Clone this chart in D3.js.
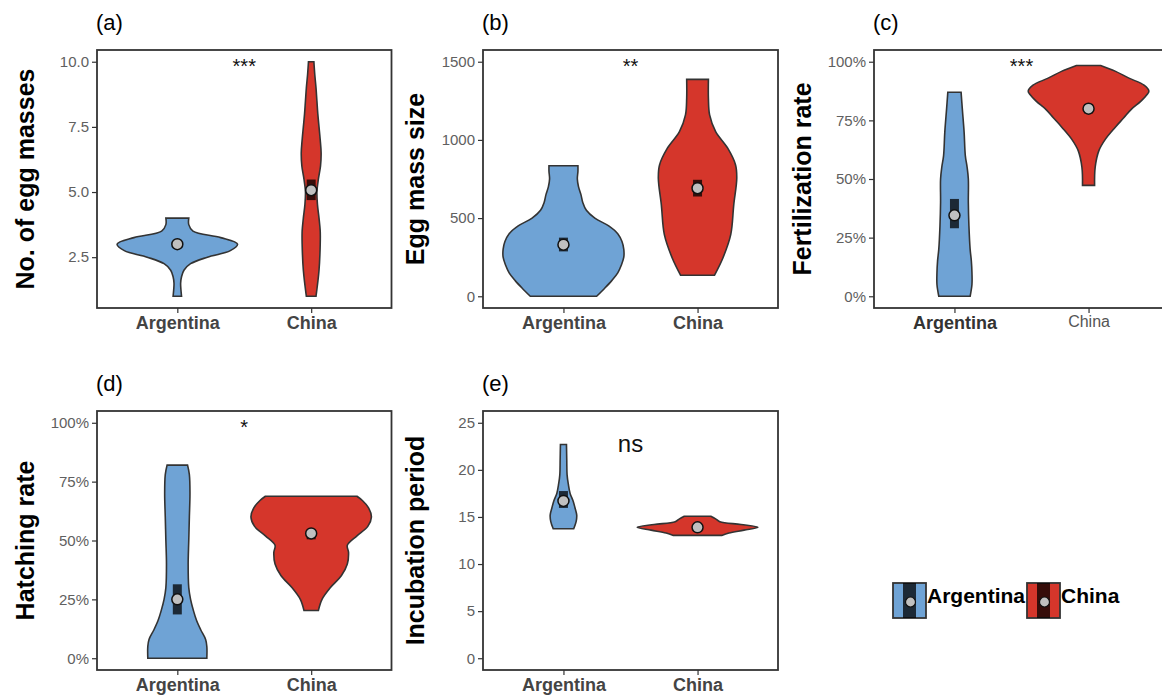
<!DOCTYPE html>
<html lang="en">
  <head>
    <meta charset="UTF-8" />
    <title>Egg traits - Argentina vs China</title>
    <script src="https://d3js.org/d3.v7.min.js"></script>
    <style>
      body { margin: 0; background: #fff; }
      svg { display: block; font-family: "Liberation Sans", Arial, sans-serif; }
    </style>
  </head>
  <body>
    <svg id="chart" width="1162" height="695"></svg>

    <script>
      const groups = ["Argentina", "China"];

      // violin profiles: [value, relative half-width]
      // (a) No. of egg masses
      const eggMassArg = [[1.0,0.07],[1.25,0.06],[1.5,0.055],[1.75,0.07],[2.0,0.11],[2.25,0.22],[2.5,0.5],[2.75,0.88],[3.0,1.0],[3.25,0.72],[3.5,0.26],[3.75,0.19],[4.0,0.19]];
      const eggMassChn = [[1.0,0.08],[2.0,0.13],[3.0,0.15],[3.5,0.15],[4.0,0.13],[4.5,0.105],[5.0,0.095],[5.5,0.12],[6.0,0.155],[6.5,0.165],[7.0,0.15],[7.5,0.13],[8.0,0.11],[8.5,0.095],[9.0,0.08],[9.5,0.06],[10.0,0.045]];
      const eggMassMean = [3.0, 5.07];
      const eggMassSE = [[2.92, 3.08], [4.69, 5.48]];

      // (b) Egg mass size
      const massSizeArg = [[0,0.55],[50,0.68],[100,0.8],[150,0.9],[200,0.96],[250,1.0],[300,1.0],[350,0.97],[400,0.9],[450,0.75],[500,0.52],[550,0.38],[600,0.32],[650,0.29],[700,0.25],[750,0.23],[800,0.24],[835,0.24]];
      const massSizeChn = [[134,0.28],[245,0.42],[394,0.55],[585,0.6],[755,0.65],[840,0.63],[947,0.5],[1053,0.3],[1160,0.2],[1266,0.18],[1387,0.18]];
      const massSizeMean = [330, 691];
      const massSizeSE = [[287, 375], [638, 745]];

      // (c) Fertilization rate
      const fertArg = [[0,0.26],[0.05,0.29],[0.1,0.29],[0.15,0.28],[0.2,0.26],[0.3,0.24],[0.4,0.23],[0.5,0.23],[0.55,0.21],[0.6,0.18],[0.7,0.16],[0.8,0.13],[0.87,0.11]];
      const fertChn = [[0.473,0.1],[0.55,0.11],[0.62,0.17],[0.67,0.28],[0.72,0.44],[0.76,0.58],[0.8,0.72],[0.83,0.86],[0.86,0.97],[0.875,1.0],[0.9,0.92],[0.93,0.67],[0.96,0.44],[0.984,0.2]];
      const fertMean = [0.345, 0.80];
      const fertSE = [[0.29, 0.415], [0.78, 0.82]];

      // (d) Hatching rate
      const hatchArg = [[0,0.49],[0.05,0.49],[0.08,0.47],[0.12,0.39],[0.16,0.32],[0.2,0.27],[0.25,0.22],[0.3,0.19],[0.4,0.18],[0.5,0.19],[0.6,0.2],[0.7,0.21],[0.78,0.2],[0.82,0.17]];
      const hatchChn = [[0.203,0.12],[0.25,0.18],[0.3,0.32],[0.35,0.5],[0.4,0.6],[0.45,0.62],[0.48,0.6],[0.52,0.76],[0.56,0.94],[0.6,1.0],[0.64,0.95],[0.67,0.85],[0.688,0.76]];
      const hatchMean = [0.25, 0.53];
      const hatchSE = [[0.186, 0.314], [0.505, 0.545]];

      // (e) Incubation period
      const incubArg = [[13.75,0.17],[14.5,0.21],[15.2,0.22],[16.0,0.19],[16.7,0.16],[17.5,0.11],[18.5,0.08],[19.5,0.06],[21.0,0.055],[22.7,0.05]];
      const incubChn = [[13.04,0.4],[13.3,0.52],[13.6,0.77],[13.9,1.0],[14.2,0.72],[14.5,0.37],[14.8,0.3],[15.07,0.22]];
      const incubMean = [16.7, 13.9];
      const incubSE = [[15.96, 17.75], [13.7, 14.1]];

      const colors = ["#6fa3d5", "#d5362b"];

      const panels = [
        { tag: "(a)", title: "No. of egg masses", box: [97, 50, 391.5, 308], domain: [0.55, 10.45],
          ticks: [2.5, 5, 7.5, 10], fmt: d3.format(".1f"), violins: [eggMassArg, eggMassChn],
          means: eggMassMean, se: eggMassSE, sig: "***", sigY: 10, titleX: 25 },
        { tag: "(b)", title: "Egg mass size", box: [483, 50, 778, 308], domain: [-75, 1575],
          ticks: [0, 500, 1000, 1500], fmt: d3.format("d"), violins: [massSizeArg, massSizeChn],
          means: massSizeMean, se: massSizeSE, sig: "**", sigY: 1500, titleX: 415 },
        { tag: "(c)", title: "Fertilization rate", box: [874, 50, 1169, 308], domain: [-0.05, 1.05],
          ticks: [0, 0.25, 0.5, 0.75, 1], fmt: d3.format(".0%"), violins: [fertArg, fertChn],
          means: fertMean, se: fertSE, sig: "***", sigY: 1, titleX: 802, oddLabels: true },
        { tag: "(d)", title: "Hatching rate", box: [97, 411, 391.5, 670], domain: [-0.05, 1.05],
          ticks: [0, 0.25, 0.5, 0.75, 1], fmt: d3.format(".0%"), violins: [hatchArg, hatchChn],
          means: hatchMean, se: hatchSE, sig: "*", sigY: 1, titleX: 25 },
        { tag: "(e)", title: "Incubation period", box: [483, 411, 778, 670], domain: [-1.25, 26.25],
          ticks: [0, 5, 10, 15, 20, 25], fmt: d3.format("d"), violins: [incubArg, incubChn],
          means: incubMean, se: incubSE, sig: "ns", sigY: 25, titleX: 415 },
      ];

      const svg = d3.select("#chart");
      svg.append("rect").attr("width", 1162).attr("height", 695).attr("fill", "#fff");

      panels.forEach((p) => {
        const [x0, y0, x1, y1] = p.box;
        const g = svg.append("g");

        const x = d3.scalePoint().domain(groups).range([x0, x1]).padding(0.6);
        const y = d3.scaleLinear().domain(p.domain).range([y1, y0]);
        const w = d3.scaleLinear().domain([0, 1]).range([0, x.step() * 0.45]);

        // violins
        p.violins.forEach((prof, i) => {
          const cx = x(groups[i]);
          const area = d3
            .area()
            .curve(d3.curveCatmullRom.alpha(0.5))
            .y((d) => y(d[0]))
            .x0((d) => cx - w(d[1]))
            .x1((d) => cx + w(d[1]));
          g.append("path")
            .datum(prof)
            .attr("d", area)
            .attr("fill", colors[i])
            .attr("stroke", "#333")
            .attr("stroke-width", 1.6);
        });

        // mean +/- se box and mean point
        groups.forEach((grp, i) => {
          const cx = x(grp);
          g.append("rect")
            .attr("x", cx - 4.5)
            .attr("width", 9)
            .attr("y", y(p.se[i][1]))
            .attr("height", y(p.se[i][0]) - y(p.se[i][1]))
            .attr("fill", "#000")
            .attr("fill-opacity", 0.75);
          g.append("circle")
            .attr("cx", cx)
            .attr("cy", y(p.means[i]))
            .attr("r", 5.5)
            .attr("fill", "#c0c0c0")
            .attr("stroke", "#111")
            .attr("stroke-width", 1.5);
        });

        // panel border
        g.append("rect")
          .attr("x", x0)
          .attr("y", y0)
          .attr("width", x1 - x0)
          .attr("height", y1 - y0)
          .attr("fill", "none")
          .attr("stroke", "#333")
          .attr("stroke-width", 1.8);

        // axes
        const yAxis = g
          .append("g")
          .attr("transform", `translate(${x0},0)`)
          .call(d3.axisLeft(y).tickValues(p.ticks).tickFormat(p.fmt).tickSize(5).tickPadding(3));
        yAxis.select(".domain").remove();
        yAxis.selectAll("line").attr("stroke", "#333").attr("stroke-width", 1.2);
        yAxis.selectAll("text").attr("fill", "#606060").style("font-size", "15px");

        const xAxis = g
          .append("g")
          .attr("transform", `translate(0,${y1})`)
          .call(d3.axisBottom(x).tickSize(5).tickPadding(3));
        xAxis.select(".domain").remove();
        xAxis.selectAll("line").attr("stroke", "#333").attr("stroke-width", 1.2);
        xAxis
          .selectAll("text")
          .attr("fill", "#444")
          .style("font-size", "18px")
          .style("font-weight", "bold");
        if (p.oddLabels) {
          xAxis.selectAll("text").filter((d) => d === "Argentina").attr("fill", "#333");
          xAxis
            .selectAll("text")
            .filter((d) => d === "China")
            .style("font-size", "16px")
            .style("font-weight", "normal")
            .attr("fill", "#555");
        }

        // titles
        g.append("text")
          .attr("transform", `translate(${p.titleX},${(y0 + y1) / 2}) rotate(-90)`)
          .attr("text-anchor", "middle")
          .attr("dy", "0.36em")
          .style("font-size", "25px")
          .style("font-weight", "bold")
          .attr("fill", "#000")
          .text(p.title);

        g.append("text")
          .attr("x", x0 - 1)
          .attr("y", y0 - 20)
          .style("font-size", "22px")
          .attr("fill", "#000")
          .text(p.tag);

        // significance
        const mid = (x(groups[0]) + x(groups[1])) / 2;
        g.append("text")
          .attr("x", mid)
          .attr("y", y(p.sigY))
          .attr("dy", p.sig === "ns" ? 29 : 11)
          .attr("text-anchor", "middle")
          .style("font-size", p.sig === "ns" ? "24px" : "20px")
          .attr("fill", "#111")
          .text(p.sig);
      });

      // legend
      const legend = svg.append("g");
      const legendX = [893, 1027];
      groups.forEach((grp, i) => {
        const lg = legend.append("g").attr("transform", `translate(${legendX[i]},583)`);
        lg.append("rect")
          .attr("width", 33)
          .attr("height", 35)
          .attr("fill", colors[i])
          .attr("stroke", "#333")
          .attr("stroke-width", 1.8);
        lg.append("rect")
          .attr("x", 10)
          .attr("width", 13)
          .attr("height", 35)
          .attr("fill", "#000")
          .attr("fill-opacity", 0.75);
        lg.append("circle")
          .attr("cx", 17.5)
          .attr("cy", 19)
          .attr("r", 5)
          .attr("fill", "#c0c0c0")
          .attr("stroke", "#111")
          .attr("stroke-width", 1.2);
        lg.append("text")
          .attr("x", 34)
          .attr("y", 20)
          .style("font-size", "21px")
          .style("font-weight", "bold")
          .attr("fill", "#000")
          .text(grp);
      });
    </script>
  </body>
</html>
